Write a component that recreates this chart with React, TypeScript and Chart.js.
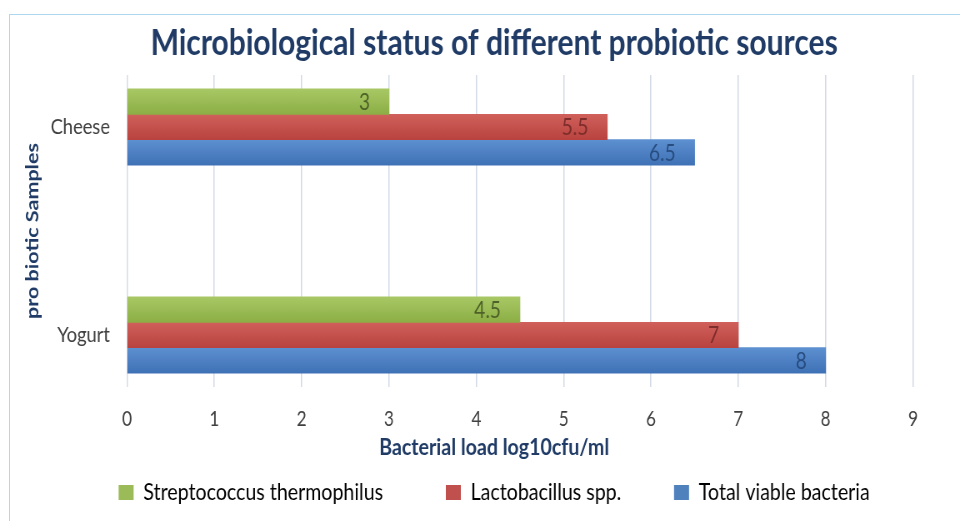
import React, { useEffect, useRef } from 'react';
import { Chart, registerables } from 'chart.js';

Chart.register(...registerables);

// ---------- data ----------
const CATEGORIES = ['Cheese', 'Yogurt'];
const CATEGORY_POSITIONS = [0, 1];
const SERIES_LABELS = ['Streptococcus thermophilus', 'Lactobacillus spp.', 'Total viable bacteria'];
const STREPTOCOCCUS_THERMOPHILUS = [3, 4.5];
const LACTOBACILLUS_SPP = [5.5, 7];
const TOTAL_VIABLE_BACTERIA = [6.5, 8];
const X_TICK_VALUES = [0, 1, 2, 3, 4, 5, 6, 7, 8, 9];
const TITLE = 'Microbiological status of different probiotic sources';
const X_TITLE = 'Bacterial load log10cfu/ml';
const Y_TITLE = 'pro biotic Samples';

// ---------- styles ----------
const BASE_COLORS = ['#9bbb59', '#c0504d', '#4f81bd'];
const LIGHT_COLORS = ['#a8c865', '#d0605b', '#5d90d0'];
const DARK_COLORS = ['#8cae45', '#b9433f', '#3f71b6'];
const LABEL_COLORS = ['#4d6128', '#7d2d2b', '#274d80'];
const LEGEND_GAPS = ['\u2003\u2003    ', '\u2003\u2003  ', ''];
const FONT = "Lato, 'Open Sans', sans-serif";
const NAVY = '#1f3b66';
const TEXT_GRAY = '#404040';

const SX = 1.2; // canvas px per screen px (horizontal)
const VIEW_W = 990;
const VIEW_H = 521;
const CANVAS_W = Math.round(VIEW_W * SX);
const PLOT_LEFT = 127 * SX;
const PLOT_RIGHT = 913 * SX;
const PAD_RIGHT = 2;
const BAR_THICKNESS = 25.4;
const LABEL_INSET = 19 * SX;

function barFill(i: number) {
  return (c: any) => {
    if (c.type !== 'data' || !c.parsed) return BASE_COLORS[i];
    const chart = c.chart;
    const y = chart.scales && chart.scales.y;
    if (!y || !chart.chartArea) return BASE_COLORS[i];
    const center = y.getPixelForValue(c.parsed.y) + (c.datasetIndex - 1) * BAR_THICKNESS;
    const g = chart.ctx.createLinearGradient(0, center - BAR_THICKNESS / 2, 0, center + BAR_THICKNESS / 2);
    g.addColorStop(0, LIGHT_COLORS[i]);
    g.addColorStop(1, DARK_COLORS[i]);
    return g;
  };
}

const valueLabels = {
  id: 'valueLabels',
  afterDatasetsDraw(chart: any) {
    const { ctx } = chart;
    chart.data.datasets.forEach((ds: any, di: number) => {
      const meta = chart.getDatasetMeta(di);
      meta.data.forEach((el: any, i: number) => {
        const v = ds.data[i].x;
        ctx.save();
        ctx.font = `23px ${FONT}`;
        ctx.fillStyle = LABEL_COLORS[di];
        ctx.textAlign = 'right';
        ctx.textBaseline = 'middle';
        ctx.fillText(String(v), el.x - LABEL_INSET, el.y + 1);
        ctx.restore();
      });
    });
  },
};

export default function App() {
  const ref = useRef<HTMLCanvasElement>(null);

  useEffect(() => {
    const canvas = ref.current;
    if (!canvas) return;
    const series = [STREPTOCOCCUS_THERMOPHILUS, LACTOBACILLUS_SPP, TOTAL_VIABLE_BACTERIA];
    const chart = new Chart(canvas, {
      type: 'bar',
      data: {
        datasets: series.map((vals, i) => ({
          label: SERIES_LABELS[i],
          data: vals.map((v, j) => ({ x: v, y: CATEGORY_POSITIONS[j] })),
          backgroundColor: barFill(i),
          borderWidth: 0,
          barThickness: BAR_THICKNESS,
        })),
      },
      options: {
        animation: false,
        responsive: false,
        devicePixelRatio: 1,
        indexAxis: 'y',
        layout: { padding: { left: 0, right: PAD_RIGHT, top: 0, bottom: 6.65 } },
        scales: {
          x: {
            type: 'linear',
            position: 'bottom',
            min: 0,
            max: 9,
            afterBuildTicks: (s: any) => {
              s.ticks = X_TICK_VALUES.map((v) => ({ value: v }));
            },
            afterFit: (s: any) => {
              s.height = 45;
              s.paddingLeft = 0;
              s.paddingRight = 0;
            },
            grid: { color: '#d3dae5', lineWidth: 1.5, drawTicks: false },
            border: { display: false },
            ticks: { padding: 20, color: TEXT_GRAY, font: { family: FONT, size: 20.5 } },
          },
          y: {
            type: 'linear',
            position: 'left',
            min: -0.25,
            max: 1.25,
            reverse: true,
            offset: false,
            afterBuildTicks: (s: any) => {
              s.ticks = CATEGORY_POSITIONS.map((v) => ({ value: v }));
            },
            afterFit: (s: any) => {
              s.width = PLOT_LEFT;
              s.paddingTop = 0;
              s.paddingBottom = 0;
            },
            grid: { display: false, drawTicks: false },
            border: { display: false },
            ticks: {
              padding: 17 * SX,
              color: TEXT_GRAY,
              font: { family: FONT, size: 22 },
              callback: (v: any) => {
                const k = CATEGORY_POSITIONS.indexOf(Number(v));
                return k >= 0 ? CATEGORIES[k] : '';
              },
            },
            title: {
              display: true,
              text: Y_TITLE,
              color: NAVY,
              font: { family: FONT, size: 21.5, weight: 'bold' },
              padding: { top: 26.1, bottom: 0 },
            },
          },
          yR: {
            type: 'linear',
            axis: 'y',
            position: 'right',
            display: true,
            grid: { display: false, drawTicks: false },
            ticks: { display: false },
            border: { display: false },
            afterFit: (s: any) => {
              s.width = CANVAS_W - PAD_RIGHT - PLOT_RIGHT;
              s.paddingTop = 0;
              s.paddingBottom = 0;
            },
          },
        },
        plugins: {
          title: {
            display: true,
            text: TITLE,
            color: NAVY,
            font: { family: FONT, size: 36, weight: 'bold' },
            padding: { top: 21.5, bottom: 10.3 },
          },
          subtitle: {
            display: true,
            text: X_TITLE,
            position: 'bottom',
            weight: 500,
            color: NAVY,
            font: { family: FONT, size: 23.5, weight: 'bold' },
            padding: { top: 1.3, bottom: 3.35 },
          },
          legend: {
            display: true,
            position: 'bottom',
            labels: {
              color: TEXT_GRAY,
              font: { family: FONT, size: 23.5 },
              boxWidth: 15 * SX,
              boxHeight: 15,
              padding: 16,
              generateLabels: (ch: any) =>
                ch.data.datasets.map((ds: any, i: number) => ({
                  text: ds.label + LEGEND_GAPS[i],
                  fillStyle: BASE_COLORS[i],
                  strokeStyle: BASE_COLORS[i],
                  lineWidth: 0,
                  hidden: !ch.isDatasetVisible(i),
                  datasetIndex: i,
                })),
            },
          },
          tooltip: { enabled: false },
        },
      } as any,
      plugins: [valueLabels],
    });
    return () => chart.destroy();
  }, []);

  return (
    <div
      style={{
        position: 'fixed',
        left: 0,
        top: 0,
        width: 960,
        height: 521,
        overflow: 'hidden',
        background: '#ffffff',
      }}
    >
      <div
        style={{
          position: 'absolute',
          left: 9,
          top: 14,
          width: 1400,
          height: 900,
          border: '1px solid #acd9f0',
          boxSizing: 'border-box',
        }}
      />
      <canvas
        ref={ref}
        width={CANVAS_W}
        height={VIEW_H}
        style={{ position: 'absolute', left: 0, top: 0, width: VIEW_W, height: VIEW_H }}
      />
    </div>
  );
}
